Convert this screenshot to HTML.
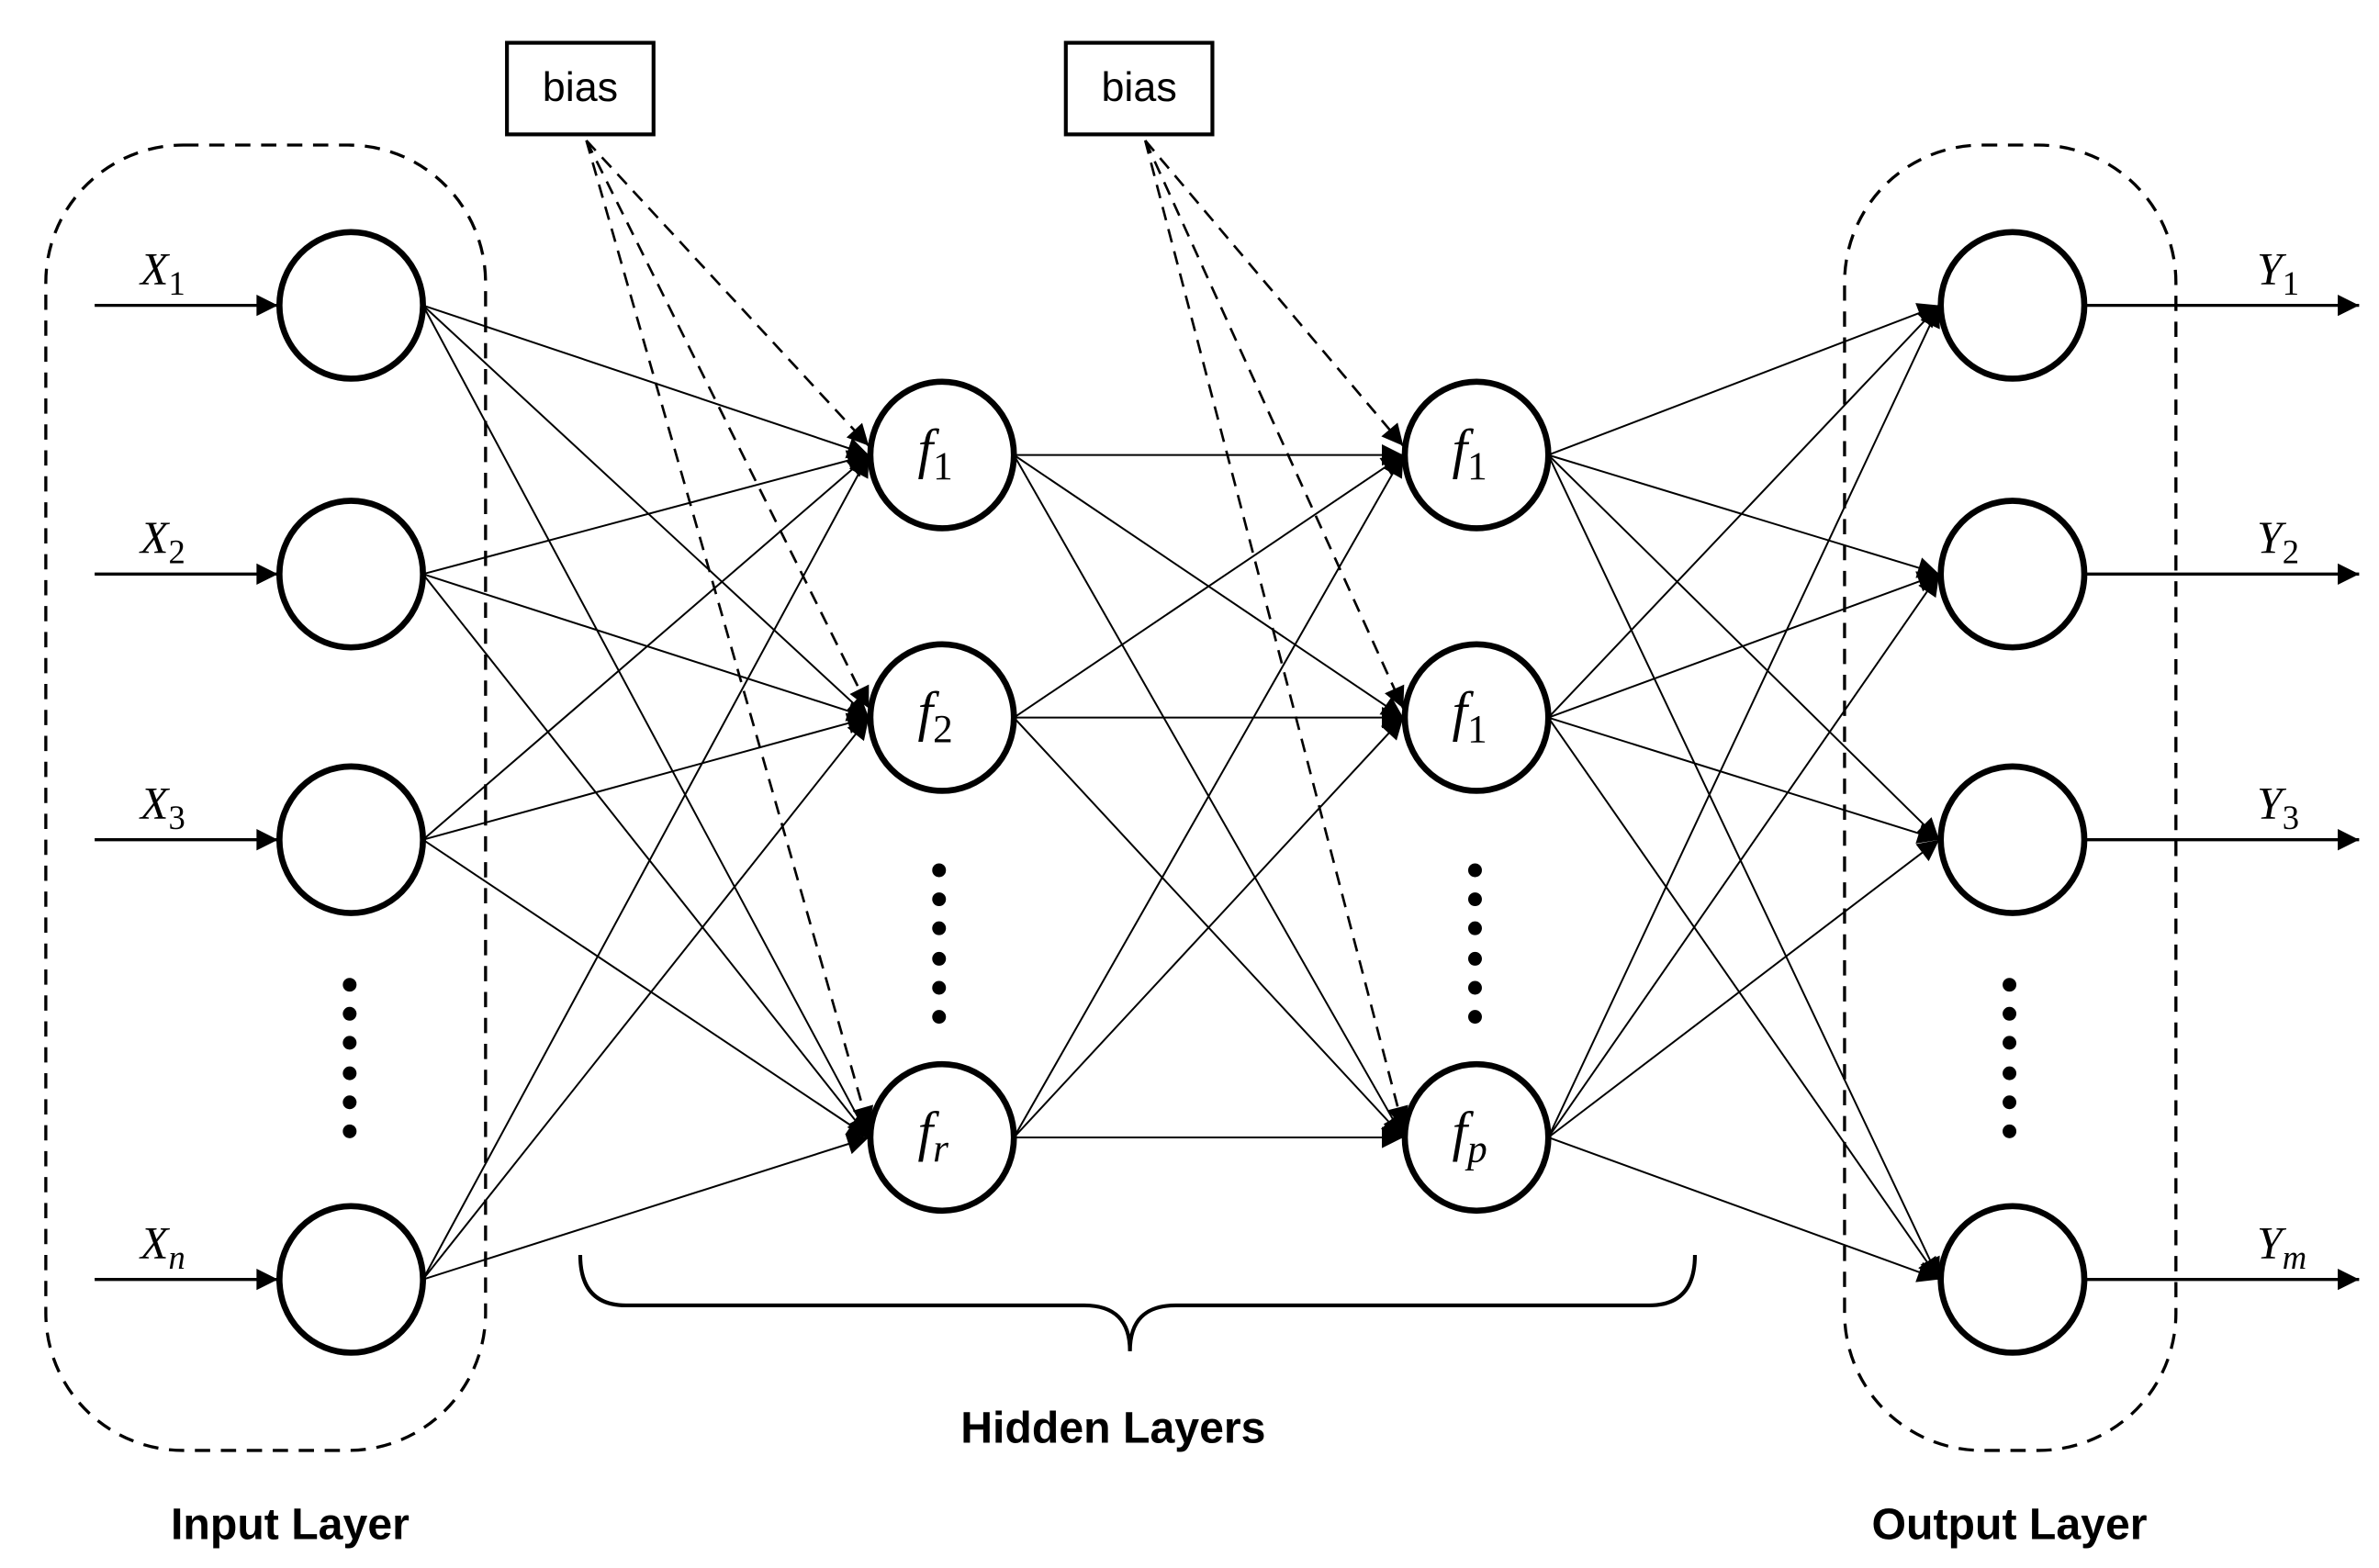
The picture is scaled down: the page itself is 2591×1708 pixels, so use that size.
<!DOCTYPE html>
<html><head><meta charset="utf-8"><style>html,body{margin:0;padding:0;background:#fff}svg{display:block}</style></head>
<body>
<svg id="s" width="2591" height="1708" viewBox="0 0 1558 1027" xmlns="http://www.w3.org/2000/svg">
<defs>
<marker id="a" viewBox="0 0 10 10" refX="10" refY="5" markerWidth="18" markerHeight="14" markerUnits="userSpaceOnUse" orient="auto"><path d="M0,0 L10,5 L0,10 z" fill="#000"/></marker>
</defs>
<rect width="1558" height="1027" fill="#fff"/>
<g fill="none" stroke="#000" stroke-width="2" stroke-dasharray="10,7">
<rect x="30" y="95" width="288" height="855" rx="90" ry="90"/>
<rect x="1208" y="95" width="217" height="855" rx="90" ry="90"/>
</g>
<g id="lines" stroke="#000" stroke-width="1.2"></g>
<g id="dash" stroke="#000" stroke-width="1.6" stroke-dasharray="9,6" fill="none"></g>
<g id="nodes" fill="#fff" stroke="#000" stroke-width="4"></g>
<g fill="#fff" stroke="#000" stroke-width="2.5">
<rect x="332" y="28" width="96" height="60"/>
<rect x="698" y="28" width="96" height="60"/>
</g>
<g font-family="Liberation Sans, sans-serif" font-size="27" text-anchor="middle">
<text x="380" y="66">bias</text>
<text x="746" y="66">bias</text>
</g>
<g font-family="Liberation Sans, sans-serif" font-size="29" font-weight="bold" text-anchor="middle">
<text x="729" y="945">Hidden Layers</text>
<text x="190" y="1008">Input Layer</text>
<text x="1316" y="1008">Output Layer</text>
</g>
<path d="M380,822 Q380,855 410,855 L710,855 Q740,855 740,885 Q740,855 770,855 L1080,855 Q1110,855 1110,822" fill="none" stroke="#000" stroke-width="2.5"/>
<g id="txt" font-family="Liberation Serif, serif" font-style="italic" font-size="30"></g>
<g id="dots" fill="#000"></g>
</svg>
<script>
var NS="http://www.w3.org/2000/svg";
function el(p,t,a,txt){var e=document.createElementNS(NS,t);for(var k in a)e.setAttribute(k,a[k]);if(txt)e.innerHTML=txt;document.getElementById(p).appendChild(e);return e;}
var R=47;
var inp=[[230,200],[230,376],[230,550],[230,838]];
var h1=[[617,298],[617,470],[617,745]];
var h2=[[967,298],[967,470],[967,745]];
var out=[[1318,200],[1318,376],[1318,550],[1318,838]];
function conn(A,B){A.forEach(function(a){B.forEach(function(b){
el("lines","line",{x1:a[0]+R,y1:a[1],x2:b[0]-R-1,y2:b[1],"marker-end":"url(#a)"});});});}
conn(inp,h1);conn(h1,h2);conn(h2,out);
function bias(bx,B){B.forEach(function(b){var tx=b[0]-R-1,ty=b[1]-6;
el("dash","line",{x1:bx,y1:92,x2:tx,y2:ty,"marker-end":"url(#a)"});});}
bias(384,h1);bias(750,h2);
inp.concat(out).forEach(function(n){el("nodes","ellipse",{cx:n[0],cy:n[1],rx:R,ry:48});});
h1.concat(h2).forEach(function(n){el("nodes","ellipse",{cx:n[0],cy:n[1],rx:R,ry:48});});
inp.forEach(function(n){el("lines","line",{x1:62,y1:n[1],x2:n[0]-R-1,y2:n[1],"stroke-width":2,"marker-end":"url(#a)"});});
out.forEach(function(n){el("lines","line",{x1:n[0]+R,y1:n[1],x2:1545,y2:n[1],"stroke-width":2,"marker-end":"url(#a)"});});
var xs=[["1",0],["2",0],["3",0],["n",1]];
inp.forEach(function(n,i){el("txt","text",{x:92,y:n[1]-14},"X<tspan font-size='22' font-style='"+(xs[i][1]?"italic":"normal")+"' dy='7'>"+xs[i][0]+"</tspan>");});
var ys=["1","2","3","m"];
out.forEach(function(n,i){el("txt","text",{x:1478,y:n[1]-14},"Y<tspan font-size='22' font-style='"+(i==3?"italic":"normal")+"' dy='7'>"+ys[i]+"</tspan>");});
var hs=[["1",""],["2",""],["r","italic"]],hs2=[["1",""],["1",""],["p","italic"]];
h1.forEach(function(n,i){el("txt","text",{x:n[0]-16,y:n[1]+8,"font-size":36},"f<tspan font-size='26' font-style='"+(hs[i][1]||"normal")+"' dy='8'>"+hs[i][0]+"</tspan>");});
h2.forEach(function(n,i){el("txt","text",{x:n[0]-16,y:n[1]+8,"font-size":36},"f<tspan font-size='26' font-style='"+(hs2[i][1]||"normal")+"' dy='8'>"+hs2[i][0]+"</tspan>");});
function dots(x,y0){[0,19,38,58,77,96].forEach(function(d){el("dots","circle",{cx:x,cy:y0+d,r:4.5});});}
dots(229,645);dots(615,570);dots(966,570);dots(1316,645);
</script>
</body></html>
